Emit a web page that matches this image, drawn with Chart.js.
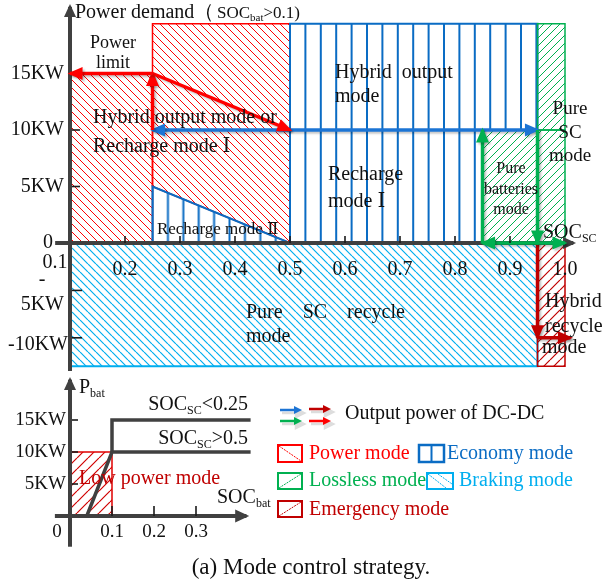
<!DOCTYPE html>
<html>
<head>
<meta charset="utf-8">
<script src="https://cdn.jsdelivr.net/npm/chart.js@4.4.1/dist/chart.umd.min.js"></script>
<style>
  html, body { margin: 0; padding: 0; background: #fff; }
  #wrap { position: relative; width: 603px; height: 585px; overflow: hidden;
          font-family: "Liberation Serif", "DejaVu Serif", "Times New Roman", serif; }
  canvas { position: absolute; left: 0; }
  #negChart { top: 0; z-index: 1; }
  #posChart { top: 0; z-index: 2; }
  #batChart { top: 370px; z-index: 3; }
  .txt { position: absolute; font-size: 20px; line-height: 20px; white-space: pre; z-index: 5; }
  #legendIcons { position: absolute; left: 270px; top: 395px; z-index: 4; }
  #caption { position: absolute; left: 111px; width: 400px; top: 555px; text-align: center;
             font-size: 23px; line-height: 24px; color: #111; z-index: 5; }
</style>
</head>
<body>
<div id="wrap">
  <canvas id="negChart" width="603" height="400"></canvas>
  <canvas id="posChart" width="603" height="400"></canvas>
  <canvas id="batChart" width="280" height="200"></canvas>

  <svg id="legendIcons" width="190" height="130">
    <g stroke-width="2.5" opacity="0.25" stroke="#777" fill="#777">
      <line x1="12" y1="18" x2="27" y2="18"/><polygon points="34,18 26,14 26,22"/>
      <line x1="41" y1="17" x2="56" y2="17"/><polygon points="63,17 55,13 55,21"/>
      <line x1="12" y1="29" x2="27" y2="29"/><polygon points="34,29 26,25 26,33"/>
      <line x1="41" y1="29" x2="56" y2="29"/><polygon points="63,29 55,25 55,33"/>
    </g>
    <line x1="10" y1="15" x2="25" y2="15" stroke="#1c74d4" stroke-width="2.5"/><polygon points="32,15 24,11 24,19" fill="#1c74d4"/>
    <line x1="39" y1="14" x2="54" y2="14" stroke="#c00000" stroke-width="2.5"/><polygon points="61,14 53,10 53,18" fill="#c00000"/>
    <line x1="10" y1="26" x2="25" y2="26" stroke="#00b050" stroke-width="2.5"/><polygon points="32,26 24,22 24,30" fill="#00b050"/>
    <line x1="39" y1="26" x2="54" y2="26" stroke="#ff0000" stroke-width="2.5"/><polygon points="61,26 53,22 53,30" fill="#ff0000"/>

    <rect x="8" y="50" width="24" height="17" fill="none" stroke="#ff0000" stroke-width="2"/>
    <line x1="9" y1="51" x2="31" y2="66" stroke="#ff0000" stroke-width="1" stroke-dasharray="2,1"/>
    <rect x="149" y="50" width="25" height="17" fill="none" stroke="#0a6cc4" stroke-width="2.5"/>
    <line x1="161.5" y1="50" x2="161.5" y2="67" stroke="#0a6cc4" stroke-width="2"/>
    <rect x="8" y="78" width="24" height="16" fill="none" stroke="#00b050" stroke-width="2"/>
    <line x1="9" y1="93" x2="31" y2="79" stroke="#00b050" stroke-width="1" stroke-dasharray="2,1"/>
    <rect x="157" y="78" width="26" height="16" fill="none" stroke="#00aeef" stroke-width="2"/>
    <line x1="158" y1="79" x2="176" y2="93" stroke="#00aeef" stroke-width="1" stroke-dasharray="2,1"/>
    <line x1="168" y1="79" x2="182" y2="89" stroke="#00aeef" stroke-width="1" stroke-dasharray="2,1"/>
    <rect x="8" y="106" width="24" height="16" fill="none" stroke="#c00000" stroke-width="2"/>
    <line x1="9" y1="121" x2="31" y2="107" stroke="#c00000" stroke-width="1" stroke-dasharray="2,1"/>
  </svg>

  <div class="txt" style="left:345px; top:402px; color:#111;">Output power of DC-DC</div>
  <div class="txt" style="left:309px; top:442px; color:#ff0000;">Power mode</div>
  <div class="txt" style="left:447px; top:442px; color:#0a6cc4;">Economy mode</div>
  <div class="txt" style="left:309px; top:469px; color:#00b050;">Lossless mode</div>
  <div class="txt" style="left:459px; top:469px; color:#00aeef;">Braking mode</div>
  <div class="txt" style="left:309px; top:498px; color:#c00000;">Emergency mode</div>
  <div id="caption">(a) Mode control strategy.</div>
</div>

<script>
// --------------------------------------
// 1. Data (SOC_SC on x, power demand in KW on y)
// --------------------------------------
const socTicks = [0.2, 0.3, 0.4, 0.5, 0.6, 0.7, 0.8, 0.9, 1.0];
const socTickLabels = ['0.2', '0.3', '0.4', '0.5', '0.6', '0.7', '0.8', '0.9', '1.0'];
const powerTicks = [15, 10, 5];
const powerTickLabels = ['15KW', '10KW', '5KW'];
const brakeTicks = [-5, -10];

// mode regions, closed polygons [SOC_SC, KW]
const powerModeLeft = [[0.1, 0], [0.1, 15], [0.25, 15], [0.25, 0], [0.1, 0]];
const powerModeTop = [[0.25, 5], [0.25, 19.4], [0.5, 19.4], [0.5, 0], [0.25, 5]];
const rechargeTwo = [[0.25, 0], [0.25, 5], [0.5, 0], [0.25, 0]];
const economyMode = [[0.5, 0], [0.5, 19.4], [0.95, 19.4], [0.95, 10], [0.85, 10], [0.85, 0], [0.5, 0]];
const pureBatteryMode = [[0.85, 0], [0.85, 10], [1.0, 10], [1.0, 0], [0.85, 0]];
const pureScMode = [[0.95, 10], [0.95, 19.4], [1.0, 19.4], [1.0, 10], [0.95, 10]];
const brakingMode = [[0.1, 0], [0.95, 0], [0.95, -13], [0.1, -13], [0.1, 0]];
const emergencyMode = [[0.95, 0], [1.0, 0], [1.0, -13], [0.95, -13], [0.95, 0]];

// DC-DC output power arrows [from, to]
const redLimitArrow = [[0.25, 15], [0.1, 15]];
const redUpArrow = [[0.25, 10], [0.25, 15]];
const redSlopeArrow = [[0.25, 15], [0.5, 10]];
const blueLeftArrow = [[0.5, 10], [0.25, 10]];
const blueRightArrow = [[0.5, 10], [0.95, 10]];
const greenUpArrow = [[0.85, 0], [0.85, 10]];
const greenDownArrow = [[0.95, 10], [0.95, 0]];
const greenBothArrow = [[0.85, 0], [1.0, 0]];
const recycleDownArrow = [[0.95, 0], [0.95, -10]];
const recycleRightArrow = [[0.95, -10], [1.01, -10]];

// axes
const socAxis = [[0.073, 0], [1.015, 0]];
const powerAxisUp = [[0.1, 0], [0.1, 20.9]];
const powerAxisDown = [[0.1, 0], [0.1, -13.5]];

// battery chart (SOC_bat on x, P_bat in KW on y)
const socBatTicks = [0.1, 0.2, 0.3];
const socBatTickLabels = ['0.1', '0.2', '0.3'];
const pbatTicks = [15, 10, 5];
const pbatTickLabels = ['15KW', '10KW', '5KW'];
const lowPowerRegion = [[0, 0], [0.1, 0], [0.1, 10], [0, 10], [0, 0]];
const limitHighSoc = [[0.04, 0], [0.1, 10], [0.43, 10]];   // SOC_SC > 0.5
const limitLowSoc = [[0.1, 10], [0.1, 15], [0.43, 15]];    // SOC_SC < 0.25
const socBatAxis = [[-0.036, 0], [0.42, 0]];
const pbatAxis = [[0, -4.8], [0, 21.3]];

// --------------------------------------
// 2. Styles and helpers
// --------------------------------------
const FONT = '"Liberation Serif", "DejaVu Serif", "Times New Roman", serif';
const COL = { red: '#ff0000', darkRed: '#c00000', blue: '#0a6cc4', arrowBlue: '#1c74d4',
              green: '#00b050', lightBlue: '#00aeef', axis: '#404040', text: '#111111' };

const toXY = pts => pts.map(([x, y]) => ({ x, y }));

function hatch(color, step, dir, width) {
    const c = document.createElement('canvas');
    c.width = step; c.height = step;
    const g = c.getContext('2d');
    g.strokeStyle = color; g.lineWidth = width;
    g.beginPath();
    for (let k = -1; k <= 1; k++) {
        if (dir === '\\') { g.moveTo(k * step, 0); g.lineTo(k * step + step, step); }
        else { g.moveTo(k * step, step); g.lineTo(k * step + step, 0); }
    }
    g.stroke();
    return g.createPattern(c, 'repeat');
}

function vlines(color, step, n, width) {
    const c = document.createElement('canvas');
    c.width = Math.round(step * n); c.height = 4;
    const g = c.getContext('2d');
    g.fillStyle = color;
    for (let k = 0; k < n; k++) g.fillRect(k * step, 0, width, 4);
    return g.createPattern(c, 'repeat');
}

function polygon(points, bg, border, width, extra) {
    return Object.assign({ type: 'line', data: toXY(points), fill: 'shape', backgroundColor: bg,
        borderColor: border, borderWidth: width, pointRadius: 0, tension: 0, clip: false,
        borderJoinStyle: 'miter' }, extra || {});
}

function segment(points, color, width, head, extra) {
    return Object.assign({ type: 'line', data: toXY(points), fill: false, borderColor: color,
        backgroundColor: color, borderWidth: width, pointRadius: 0, tension: 0, clip: false,
        borderCapStyle: 'butt', borderJoinStyle: 'miter', arrowHead: head }, extra || {});
}

// first in list = drawn first (bottom)
function stackOrder(list) {
    list.forEach((ds, i) => { ds.order = list.length - i; });
    return list;
}

function richText(ctx, str, x, y, size, color, align) {
    const segs = [];
    const re = /_\{([^}]*)\}/g;
    let last = 0, m;
    while ((m = re.exec(str))) {
        if (m.index > last) segs.push({ t: str.slice(last, m.index), sub: false });
        segs.push({ t: m[1], sub: true });
        last = re.lastIndex;
    }
    if (last < str.length) segs.push({ t: str.slice(last), sub: false });
    const subSize = Math.round(size * 0.62);
    const fontOf = s => `${s.sub ? subSize : size}px ${FONT}`;
    let total = 0;
    segs.forEach(s => { ctx.font = fontOf(s); s.w = ctx.measureText(s.t).width; total += s.w; });
    let cx = align === 'center' ? x - total / 2 : align === 'right' ? x - total : x;
    ctx.fillStyle = color; ctx.textBaseline = 'middle'; ctx.textAlign = 'left';
    segs.forEach(s => {
        ctx.font = fontOf(s);
        ctx.fillText(s.t, cx, s.sub ? y + size * 0.3 : y);
        cx += s.w;
    });
}

// arrow heads and soft shadows on flagged datasets
const arrowPlugin = {
    id: 'arrows',
    beforeDatasetDraw(chart, args) {
        const ds = chart.data.datasets[args.index];
        if (ds.shadow) {
            const c = chart.ctx;
            c.save();
            c.shadowColor = 'rgba(0,0,0,0.22)';
            c.shadowOffsetX = 2; c.shadowOffsetY = 2; c.shadowBlur = 2;
        }
    },
    afterDatasetDraw(chart, args) {
        const ds = chart.data.datasets[args.index];
        const pts = args.meta.data;
        const ctx = chart.ctx;
        const head = (from, to) => {
            const ang = Math.atan2(to.y - from.y, to.x - from.x);
            const len = ds.headLength || 15, w = ds.headWidth || 13, ext = ds.borderWidth * 0.7;
            ctx.save();
            ctx.translate(to.x, to.y); ctx.rotate(ang);
            ctx.fillStyle = ds.borderColor;
            ctx.beginPath();
            ctx.moveTo(ext, 0); ctx.lineTo(ext - len, -w / 2); ctx.lineTo(ext - len, w / 2);
            ctx.closePath(); ctx.fill();
            ctx.restore();
        };
        if (ds.arrowHead && pts.length > 1) {
            head(pts[pts.length - 2], pts[pts.length - 1]);
            if (ds.arrowHead === 'both') head(pts[1], pts[0]);
        }
        if (ds.shadow) ctx.restore();
    }
};

// ticks, tick labels, annotations
function decor(cfg) {
    return {
        id: 'decor',
        afterLayout(chart) {
            chart.data.datasets.forEach(ds => {
                if (ds.patternAnchor !== undefined) {
                    const px = chart.scales.x.getPixelForValue(ds.patternAnchor) - 1;
                    ds.backgroundColor.setTransform(new DOMMatrix().translate(px, 0));
                }
            });
        },
        afterDatasetsDraw(chart) {
            const { ctx, scales: { x, y } } = chart;
            ctx.save();
            ctx.strokeStyle = '#1a1a1a'; ctx.lineWidth = 1.6;
            (cfg.xTicks || []).forEach(v => {
                const px = x.getPixelForValue(v), py = y.getPixelForValue(0);
                ctx.beginPath(); ctx.moveTo(px, py); ctx.lineTo(px, py - cfg.xTickLen); ctx.stroke();
            });
            (cfg.yTicks || []).forEach(v => {
                const px = x.getPixelForValue(cfg.yAxisAt), py = y.getPixelForValue(v);
                ctx.beginPath(); ctx.moveTo(px + 2, py); ctx.lineTo(px + cfg.yTickLen, py); ctx.stroke();
            });
            (cfg.labels || []).forEach(l => {
                richText(ctx, l.text, x.getPixelForValue(l.x) + (l.dx || 0),
                    y.getPixelForValue(l.y) + (l.dy || 0), l.size || 20, l.color || COL.text, l.align || 'left');
            });
            ctx.restore();
        }
    };
}

function baseOptions(xMin, xMax, yMin, yMax, padding) {
    return {
        responsive: false, animation: false, devicePixelRatio: 1, events: [],
        layout: { padding },
        plugins: { legend: { display: false }, tooltip: { enabled: false } },
        scales: {
            x: { type: 'linear', min: xMin, max: xMax, display: false },
            y: { type: 'linear', min: yMin, max: yMax, display: false }
        }
    };
}

// --------------------------------------
// 3. Upper map: positive power demand
// --------------------------------------
const redHatch = hatch(COL.red, 8, '\\', 1);
const greenHatch = hatch(COL.green, 8, '/', 1);
const blueLinesTop = vlines(COL.blue, 15.4, 5, 2);
const blueLinesTri = vlines(COL.blue, 15.4, 5, 2);
const arrowW = 3.5;

const posLabels = [
    { text: 'Power demand（', x: 0.109, y: 20.35, size: 20 },
    { text: 'SOC_{bat}>0.1)', x: 0.1 + 147 / 550, y: 20.35, size: 17 },
    { text: 'Power', x: 0.178, y: 17.7, size: 18, align: 'center' },
    { text: 'limit', x: 0.178, y: 15.93, size: 18, align: 'center' },
    { text: 'Hybrid output mode or', x: 0.1418, y: 11.06 },
    { text: 'Recharge mode Ⅰ', x: 0.1418, y: 8.5 },
    { text: 'Recharge mode Ⅱ', x: 0.258, y: 1.15, size: 17 },
    { text: 'Hybrid  output', x: 0.5818, y: 15.04 },
    { text: 'mode', x: 0.5818, y: 12.92 },
    { text: 'Recharge', x: 0.569, y: 6.02 },
    { text: 'mode Ⅰ', x: 0.569, y: 3.63 },
    { text: 'Pure', x: 0.9018, y: 6.55, size: 16, align: 'center' },
    { text: 'batteries', x: 0.9018, y: 4.69, size: 16, align: 'center' },
    { text: 'mode', x: 0.9018, y: 2.92, size: 16, align: 'center' },
    { text: 'Pure', x: 1.0091, y: 11.86, size: 19, align: 'center' },
    { text: 'SC', x: 1.0091, y: 9.73, size: 19, align: 'center' },
    { text: 'mode', x: 1.0091, y: 7.7, size: 19, align: 'center' },
    { text: 'SOC_{SC}', x: 0.96, y: 0.885 },
    { text: '0', x: 0.1, y: 0, dx: -17, align: 'right' },
    { text: '0.1', x: 0.1, y: 0, dx: -15, dy: 20, align: 'center' }
]
    .concat(powerTicks.map((v, i) => ({ text: powerTickLabels[i], x: 0.1, y: v, dx: -6, align: 'right' })))
    .concat(socTicks.map((v, i) => ({ text: socTickLabels[i], x: v, y: 0, dy: 27, align: 'center' })));

const posDatasets = stackOrder([
    polygon(powerModeLeft, redHatch, COL.red, 1.5),
    polygon(powerModeTop, redHatch, COL.red, 1.5),
    polygon(rechargeTwo, blueLinesTri, COL.blue, 2, { patternAnchor: 0.25 }),
    polygon(economyMode, blueLinesTop, COL.blue, 2, { patternAnchor: 0.5 }),
    polygon(pureBatteryMode, greenHatch, COL.green, 1.5),
    polygon(pureScMode, greenHatch, COL.green, 1.5),
    segment(socAxis, COL.axis, 4, 'end', { headLength: 13, headWidth: 12 }),
    segment(powerAxisUp, COL.axis, 4, 'end', { headLength: 13, headWidth: 12 }),
    segment(blueLeftArrow, COL.arrowBlue, arrowW, 'end', { shadow: true }),
    segment(blueRightArrow, COL.arrowBlue, arrowW, 'end', { shadow: true }),
    segment(redUpArrow, COL.red, arrowW, 'end', { shadow: true }),
    segment(redSlopeArrow, COL.red, arrowW, 'end', { shadow: true }),
    segment(redLimitArrow, COL.red, arrowW, 'end', { shadow: true }),
    segment(greenUpArrow, COL.green, arrowW, 'end', { shadow: true }),
    segment(greenDownArrow, COL.green, arrowW, 'end', { shadow: true }),
    segment(greenBothArrow, COL.green, arrowW, 'both', { shadow: true })
]);

new Chart(document.getElementById('posChart'), {
    type: 'line',
    data: { datasets: posDatasets },
    options: baseOptions(0.1 - 50 / 550, 0.1 + 530 / 550, 0, 239 / 11.3, { left: 20, right: 3, top: 4, bottom: 157 }),
    plugins: [arrowPlugin, decor({ xTicks: socTicks.slice(0, 8), xTickLen: 7, yTicks: [5, 10], yAxisAt: 0.1, yTickLen: 10, labels: posLabels })]
});

// --------------------------------------
// 4. Lower map: braking (negative power)
// --------------------------------------
const negLabels = [
    { text: 'Pure    SC    recycle', x: 0.42, y: -7.38 },
    { text: 'mode', x: 0.42, y: -9.92 },
    { text: 'Hybrid', x: 0.9636, y: -6.22 },
    { text: 'recycle', x: 0.9636, y: -8.86 },
    { text: 'mode', x: 0.958, y: -11.08 },
    { text: '-', x: 0.1, y: brakeTicks[0], dx: -28, dy: -11, align: 'center' },
    { text: '5KW', x: 0.1, y: brakeTicks[0], dx: -6, dy: 14, align: 'right' },
    { text: '-10KW', x: 0.1, y: brakeTicks[1], dx: -2, dy: 7, align: 'right' }
];

const negDatasets = stackOrder([
    polygon(brakingMode, hatch(COL.lightBlue, 8, '\\', 1.2), COL.lightBlue, 2),
    polygon(emergencyMode, hatch(COL.darkRed, 10, '/', 1.2), COL.darkRed, 1.5),
    segment(powerAxisDown, COL.axis, 4, null),
    segment(recycleDownArrow, COL.darkRed, arrowW, 'end', { shadow: true }),
    segment(recycleRightArrow, COL.darkRed, arrowW, 'end', { shadow: true })
]);

new Chart(document.getElementById('negChart'), {
    type: 'line',
    data: { datasets: negDatasets },
    options: baseOptions(0.1 - 50 / 550, 0.1 + 530 / 550, -13.5, 0, { left: 20, right: 3, top: 243, bottom: 29 }),
    plugins: [arrowPlugin, decor({ yTicks: brakeTicks, yAxisAt: 0.1, yTickLen: 12, labels: negLabels })]
});

// --------------------------------------
// 5. Battery power limit chart
// --------------------------------------
const batLabels = [
    { text: 'P_{bat}', x: 0.0214, y: 20.0 },
    { text: 'SOC_{SC}<0.25', x: 0.4238, y: 17.34, align: 'right' },
    { text: 'SOC_{SC}>0.5', x: 0.4238, y: 12.03, align: 'right' },
    { text: 'SOC_{bat}', x: 0.35, y: 2.81 },
    { text: 'Low power mode', x: 0.0214, y: 5.78, color: COL.darkRed },
    { text: '0', x: 0, y: 0, dx: -13, dy: 16, align: 'center', size: 19 }
]
    .concat(pbatTicks.map((v, i) => ({ text: pbatTickLabels[i], x: 0, y: v, dx: -4, align: 'right', size: 19 })))
    .concat(socBatTicks.map((v, i) => ({ text: socBatTickLabels[i], x: v, y: 0, dy: 16, align: 'center', size: 19 })));

const batDatasets = stackOrder([
    polygon(lowPowerRegion, hatch('#d00000', 11, '/', 1.2), '#e00000', 1.5),
    segment(socBatAxis, COL.axis, 4, 'end', { headLength: 14, headWidth: 13 }),
    segment(pbatAxis, COL.axis, 4, 'end', { headLength: 13, headWidth: 12 }),
    segment(limitHighSoc, COL.axis, 3.5, null),
    segment(limitLowSoc, COL.axis, 3.5, null)
]);

new Chart(document.getElementById('batChart'), {
    type: 'line',
    data: { datasets: batDatasets },
    options: baseOptions(-50 / 420, 190 / 420, -34 / 6.4, 140 / 6.4, { left: 20, right: 20, top: 6, bottom: 20 }),
    plugins: [arrowPlugin, decor({ xTicks: socBatTicks, xTickLen: 10, yTicks: pbatTicks, yAxisAt: 0, yTickLen: 8, labels: batLabels })]
});
</script>
</body>
</html>
